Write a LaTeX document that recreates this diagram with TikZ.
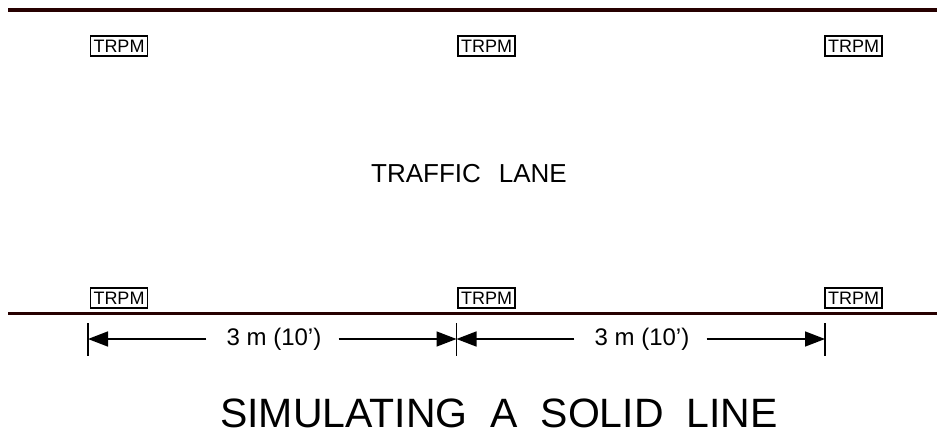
\documentclass[tikz,border=0pt]{standalone}
\usepackage{fontspec}
\setmainfont{Liberation Sans}
\usetikzlibrary{arrows.meta}
\begin{document}
\begin{tikzpicture}[x=1pt,y=-1pt,
  trpm/.style={draw,line width=1.8pt,inner sep=0pt,minimum width=57pt,minimum height=20pt,font=\fontsize{18}{18}\selectfont},
  road/.style={line width=3.5pt,draw=black!85!red},
  dim/.style={line width=1.5pt,-{Triangle[length=20pt,width=15pt]}},
  tick/.style={line width=1.5pt}]
\useasboundingbox (0,0) rectangle (937,436);
\draw[road] (8,10) coordinate (tl) -- (937,10) coordinate (tr);
\draw[road] (8,313.5) coordinate (bl) -- (937,313.5) coordinate (br);
\foreach \n/\x in {a/119,b/486.5,c/853.5}{
  \node[trpm] (t\n) at (\x,46) {TRPM};
  \node[trpm] (b\n) at (\x,298) {TRPM};
}
\node[font=\fontsize{26}{26}\selectfont,inner sep=0pt,anchor=base] (lane) at (469,182) {TRAFFIC\hspace{18pt}LANE};
\coordinate (k1t) at (88,323); \coordinate (k1b) at (88,356);
\coordinate (k2t) at (456.5,323); \coordinate (k2b) at (456.5,356);
\coordinate (k3t) at (825,323); \coordinate (k3b) at (825,356);
\draw[tick] (k1t) -- (k1b);
\draw[tick] (k2t) -- (k2b);
\draw[tick] (k3t) -- (k3b);
\node[font=\fontsize{24}{24}\selectfont,inner sep=0pt,anchor=base] (d1) at (274,345) {3 m (10’)};
\node[font=\fontsize{24}{24}\selectfont,inner sep=0pt,anchor=base] (d2) at (642,345) {3 m (10’)};
\coordinate (a1) at (88,339); \coordinate (a2) at (456.5,339); \coordinate (a3) at (825,339);
\draw[dim] (d1.west |- a1) ++(-20pt,0) -- (a1);
\draw[dim] (d1.east |- a1) ++(17pt,0) -- (a2);
\draw[dim] (d2.west |- a2) ++(-20pt,0) -- (a2);
\draw[dim] (d2.east |- a3) ++(17pt,0) -- (a3);
\node[font=\fontsize{41}{41}\selectfont,inner sep=0pt,anchor=base west] (title) at (220,427) {SIMULATING\ \ A\ \ SOLID\ \ LINE};
\end{tikzpicture}
\end{document}
